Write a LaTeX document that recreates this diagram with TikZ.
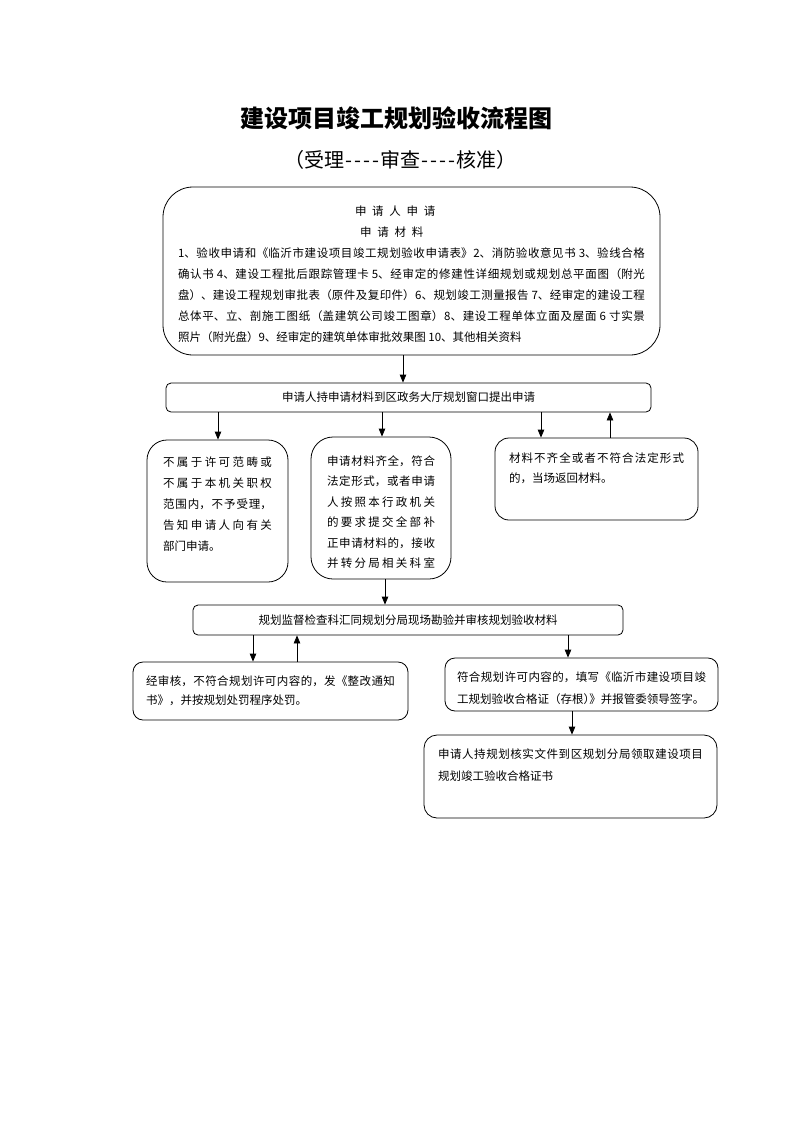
\documentclass[tikz,border=0pt]{standalone}
\usepackage{fontspec}
\setmainfont{Noto Sans CJK SC}
\usetikzlibrary{arrows.meta}
\XeTeXlinebreaklocale "zh"
\XeTeXlinebreakskip=0pt plus 2pt
\tolerance=10000
\hbadness=10000
\newcommand\dsh{\makebox[9pt]{-}}

\begin{document}
\begin{tikzpicture}
    [x=1pt, y=-1pt,
    arr/.style={line width=0.8pt, -{Triangle[length=8pt,width=6.5pt]}},
    box/.style={draw, line width=0.8pt, anchor=text, inner ysep=0pt, align=justify,
        font=\fontsize{11.5}{#1}\selectfont},
    flat/.style={draw, line width=0.8pt, rounded corners=5pt, inner sep=0pt,
        font=\fontsize{11.5}{14}\selectfont}]
    \useasboundingbox (0,0) rectangle (793,1122);

        %% Title
    \node[font=\fontsize{24}{28}\selectfont\bfseries] (title) at (396,118) {建设项目竣工规划验收流程图};
    \node[font=\fontsize{20}{22}\selectfont] (subtitle) at (400,160) {（受理\dsh\dsh\dsh\dsh 审查\dsh\dsh\dsh\dsh 核准）};

        %% Application
    \node[box=21, rounded corners=30pt, inner xsep=15pt, text width=467pt,
        text height=28.4pt, text depth=139.6pt] (apply) at (178,215.4)
        {\hspace*{177pt}申\enspace 请\enspace 人\enspace 申\enspace 请\\
        \hspace*{182pt}申\enspace 请\enspace 材\enspace 料\\
        1、验收申请和《临沂市建设项目竣工规划验收申请表》2、消防验收意见书 3、验线合格\linebreak
        确认书 4、建设工程批后跟踪管理卡 5、经审定的修建性详细规划或规划总平面图（附光\linebreak
        盘）、建设工程规划审批表（原件及复印件）6、规划竣工测量报告 7、经审定的建设工程\linebreak
        总体平、立、剖施工图纸（盖建筑公司竣工图章）8、建设工程单体立面及屋面 6 寸实景\linebreak
        照片（附光盘）9、经审定的建筑单体审批效果图 10、其他相关资料};
    \node[flat, minimum width=485pt, minimum height=29pt] (submit) at (408.5,397.5)
        {申请人持申请材料到区政务大厅规划窗口提出申请};

        %% Acceptance
    \node[box=21, rounded corners=20pt, inner xsep=16pt, text width=109pt,
        text height=26.4pt, text depth=115.6pt] (reject) at (163,466.4)
        {不属于许可范畴或\linebreak
        不属于本机关职权\linebreak
        范围内，不予受理，\linebreak
        告知申请人向有关\linebreak
        部门申请。};
    \node[box=20.5, rounded corners=22pt, inner xsep=16pt, text width=108pt,
        text height=28.4pt, text depth=113.6pt] (accept) at (327,465.4)
        {申请材料齐全，符合\linebreak
        法定形式，或者申请\linebreak
        人按照本行政机关\linebreak
        的要求提交全部补\linebreak
        正申请材料的，接收\linebreak
        并转分局相关科室\linebreak};
    \node[box=20, rounded corners=14pt, inner xsep=14pt, text width=175pt,
        text height=24.4pt, text depth=57.6pt] (back) at (509,462.4)
        {材料不齐全或者不符合法定形式\linebreak
        的，当场返回材料。};

        %% Review
    \node[flat, minimum width=430pt, minimum height=30pt] (review) at (408,620)
        {规划监督检查科汇同规划分局现场勘验并审核规划验收材料};
    \node[box=19.5, rounded corners=10pt, inner xsep=13pt, text width=249pt,
        text height=23pt, text depth=35pt] (refuse) at (146,685)
        {经审核，不符合规划许可内容的，发《整改通知\linebreak
        书》，并按规划处罚程序处罚。};
    \node[box=22, rounded corners=10pt, inner xsep=12pt, text width=249pt,
        text height=23.4pt, text depth=29.6pt] (approve) at (457,681.4)
        {符合规划许可内容的，填写《临沂市建设项目竣\linebreak
        工规划验收合格证（存根）\kern-.5em》并报管委领导签字。};
    \node[box=22, rounded corners=13pt, inner xsep=14pt, text width=265pt,
        text height=23.4pt, text depth=59.6pt] (issue) at (438,758.4)
        {申请人持规划核实文件到区规划分局领取建设项目\linebreak
        规划竣工验收合格证书};

        %% Arrows
    \draw[arr] (403,0 |- apply.south) -- (403,0 |- submit.north);
    \draw[arr] (218,0 |- submit.south) -- (218,0 |- reject.north);
    \draw[arr] (382,0 |- submit.south) -- (382,0 |- accept.north);
    \draw[arr] (541,0 |- submit.south) -- (541,0 |- back.north);
    \draw[arr] (610,0 |- back.north) -- (610,0 |- submit.south);
    \draw[arr] (385,0 |- accept.south) -- (385,0 |- review.north);
    \draw[arr] (253,0 |- review.south) -- (253,0 |- refuse.north);
    \draw[arr] (297,0 |- refuse.north) -- (297,0 |- review.south);
    \draw[arr] (568,0 |- review.south) -- (568,0 |- approve.north);
    \draw[arr] (572,0 |- approve.south) -- (572,0 |- issue.north);
\end{tikzpicture}
\end{document}
